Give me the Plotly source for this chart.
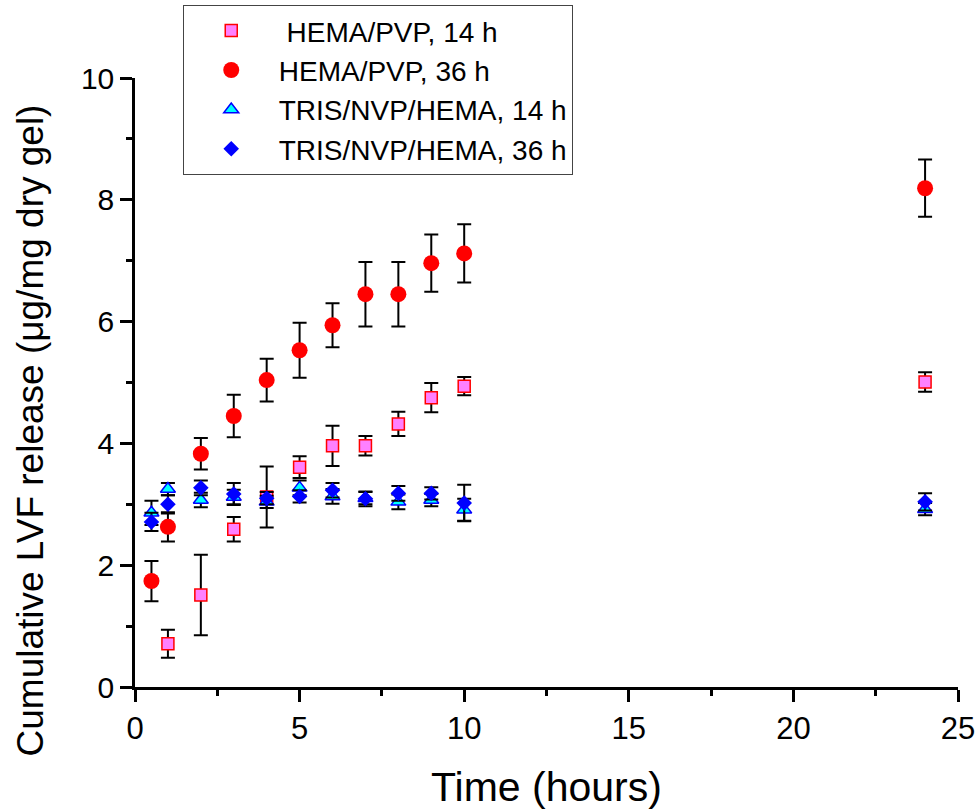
import plotly.graph_objects as go

# ---- data ----
time_hema = [0.5, 1, 2, 3, 4, 5, 6, 7, 8, 9, 10, 24]
time_hema14 = [1, 2, 3, 4, 5, 6, 7, 8, 9, 10, 24]

hema14_y = [0.71, 1.51, 2.59, 3.12, 3.61, 3.96, 3.96, 4.32, 4.75, 4.94, 5.01]
hema14_err = [0.23, 0.66, 0.20, 0.50, 0.18, 0.33, 0.16, 0.20, 0.24, 0.15, 0.16]

hema36_y = [1.74, 2.63, 3.83, 4.45, 5.04, 5.53, 5.94, 6.45, 6.45, 6.96, 7.12, 8.19]
hema36_err = [0.33, 0.24, 0.26, 0.35, 0.35, 0.45, 0.36, 0.53, 0.53, 0.47, 0.48, 0.47]

tris14_y = [2.86, 3.25, 3.07, 3.12, 3.04, 3.27, 3.13, 3.10, 3.04, 3.07, 2.91, 2.92]
tris14_err = [0.20, 0.10, 0.12, 0.12, 0.10, 0.12, 0.12, 0.10, 0.12, 0.10, 0.18, 0.10]

tris36_y = [2.71, 3.00, 3.27, 3.17, 3.10, 3.13, 3.23, 3.09, 3.18, 3.18, 3.02, 3.04]
tris36_err = [0.15, 0.15, 0.12, 0.18, 0.10, 0.10, 0.12, 0.12, 0.12, 0.10, 0.30, 0.14]

names = [" HEMA/PVP, 14 h", "HEMA/PVP, 36 h", "TRIS/NVP/HEMA, 14 h", "TRIS/NVP/HEMA, 36 h"]

x_ticks = [0, 5, 10, 15, 20, 25]
y_ticks = [0, 2, 4, 6, 8, 10]

FONT = "Arial, Liberation Sans, sans-serif"

def err(vals):
    return dict(type="data", array=vals, visible=True, color="black",
                thickness=2, width=7)

fig = go.Figure()
fig.add_trace(go.Scatter(
    x=time_hema14, y=hema14_y, mode="markers", name=names[0],
    error_y=err(hema14_err),
    marker=dict(symbol="square", size=12, color="#FF80FF",
                line=dict(color="#FF0000", width=1.5))))
fig.add_trace(go.Scatter(
    x=time_hema, y=hema36_y, mode="markers", name=names[1],
    error_y=err(hema36_err),
    marker=dict(symbol="circle", size=16, color="#FF0000",
                line=dict(color="#FF0000", width=0))))
fig.add_trace(go.Scatter(
    x=time_hema, y=tris14_y, mode="markers", name=names[2],
    error_y=err(tris14_err),
    marker=dict(symbol="triangle-up", size=13, color="#00FFFF",
                line=dict(color="#0000FF", width=1.5))))
fig.add_trace(go.Scatter(
    x=time_hema, y=tris36_y, mode="markers", name=names[3],
    error_y=err(tris36_err),
    marker=dict(symbol="diamond", size=12, color="#0000FF",
                line=dict(color="#0000FF", width=0))))

fig.update_layout(
    width=979, height=810,
    margin=dict(l=135, r=21, t=78, b=123, autoexpand=False),
    paper_bgcolor="white", plot_bgcolor="white",
    font=dict(family=FONT, color="black"),
    showlegend=True,
    legend=dict(
        x=0.058, y=1.12, xanchor="left", yanchor="top",
        bgcolor="white", bordercolor="#444444", borderwidth=1,
        font=dict(size=28, family=FONT, color="black"),
        itemwidth=85,
    ),
    annotations=[dict(
        text="Cumulative LVF release (\u03bcg/mg dry gel)",
        xref="paper", yref="paper", x=-0.127, y=0.422,
        xanchor="center", yanchor="middle", textangle=-90,
        showarrow=False, font=dict(size=37, family=FONT, color="black"))],
)

fig.update_xaxes(
    range=[0, 25], tickvals=x_ticks, ticktext=[str(v) for v in x_ticks],
    showline=True, linecolor="black", linewidth=2.5, mirror=False,
    showgrid=False, zeroline=False,
    ticks="outside", ticklen=12, tickwidth=2.5, tickcolor="black",
    tickfont=dict(size=31, family=FONT, color="black"),
    minor=dict(ticks="outside", ticklen=6, tickwidth=2.5, tickcolor="black",
               dtick=2.5, showgrid=False),
    title=dict(text="Time (hours)", font=dict(size=41, family=FONT, color="black"),
               standoff=30),
)
fig.update_yaxes(
    range=[0, 10], tickvals=y_ticks, ticktext=[str(v) for v in y_ticks],
    showline=True, linecolor="black", linewidth=2.5, mirror=False,
    showgrid=False, zeroline=False,
    ticks="outside", ticklen=12, tickwidth=2.5, tickcolor="black",
    tickfont=dict(size=30, family=FONT, color="black"),
    minor=dict(ticks="outside", ticklen=6, tickwidth=2.5, tickcolor="black",
               dtick=1, showgrid=False),
)

fig.write_html("out.html")
